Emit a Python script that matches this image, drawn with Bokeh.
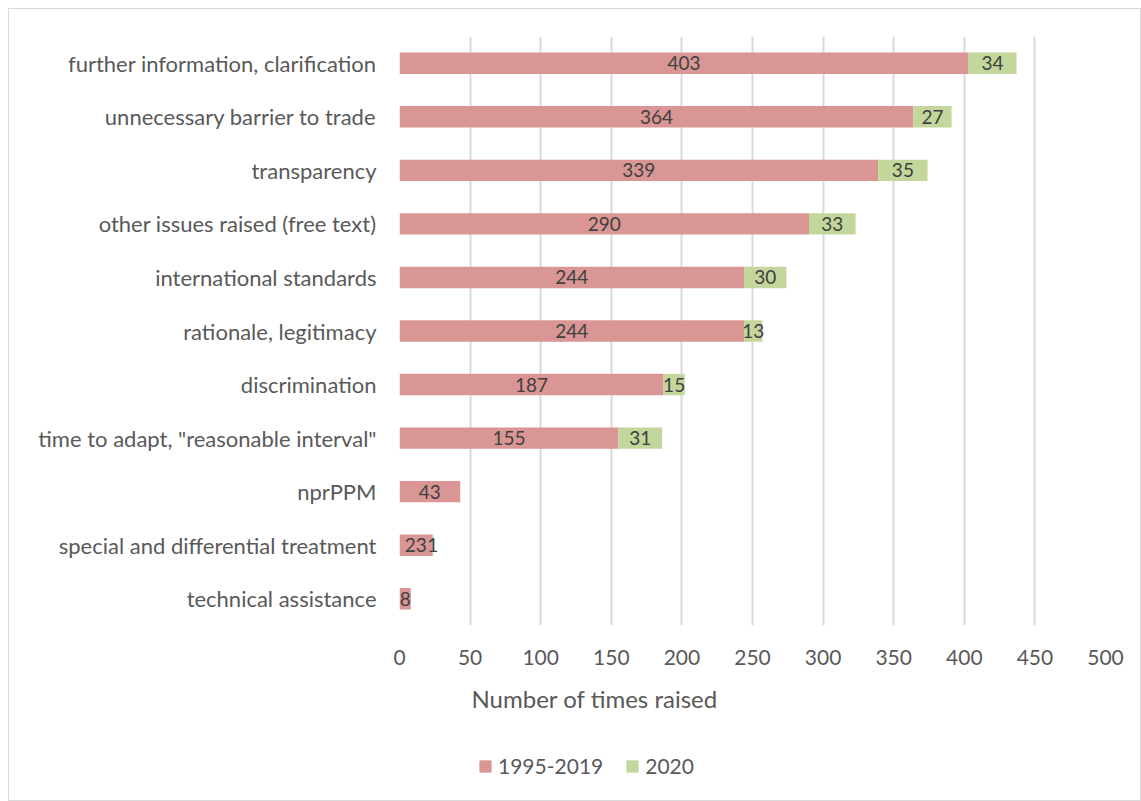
from bokeh.plotting import figure
from bokeh.layouts import column
from bokeh.models import ColumnDataSource, Range1d, FactorRange, Legend, LegendItem, Title, FixedTicker
from bokeh.embed import file_html
from bokeh.resources import INLINE
from bokeh.core.properties import value

categories = [
    "further information, clarification",
    "unnecessary barrier to trade",
    "transparency",
    "other issues raised (free text)",
    "international standards",
    "rationale, legitimacy",
    "discrimination",
    'time to adapt, "reasonable interval"',
    "nprPPM",
    "special and differential treatment",
    "technical assistance",
]
v_1995_2019 = [403, 364, 339, 290, 244, 244, 187, 155, 43, 23, 8]
v_2020 = [34, 27, 35, 33, 30, 13, 15, 31, 0, 1, 0]
series_names = ["1995-2019", "2020"]
x_ticks = [0, 50, 100, 150, 200, 250, 300, 350, 400, 450, 500]
x_title = "Number of times raised"

FONT = "Lato"
C1 = "#D99694"
C2 = "#C3D69B"
GREY = "#595959"

src = ColumnDataSource(dict(cat=categories, a=v_1995_2019, b=v_2020))

p = figure(width=1131, height=726, output_backend="svg", toolbar_location=None,
           y_range=FactorRange(*categories[::-1]), x_range=Range1d(0, 500),
           min_border_left=390, min_border_right=35, min_border_top=27, min_border_bottom=110)
p.outline_line_color = None

r = p.hbar_stack(["a", "b"], y="cat", height=0.4, color=[C1, C2], source=src, line_color=None)

# data labels
la_x = [a / 2 for a in v_1995_2019]
la_t = [str(a) for a in v_1995_2019]
p.text(x=la_x, y=categories, text=la_t, text_align="center", text_baseline="middle",
       text_font=value(FONT), text_font_size="19px", text_color="#404040")
lb_cat = [c for c, b in zip(categories, v_2020) if b > 0]
lb_x = [a + b / 2 for a, b in zip(v_1995_2019, v_2020) if b > 0]
lb_t = [str(b) for b in v_2020 if b > 0]
p.text(x=lb_x, y=lb_cat, text=lb_t, text_align="center", text_baseline="middle",
       text_font=value(FONT), text_font_size="19px", text_color="#404040")

# axes
p.xaxis.ticker = FixedTicker(ticks=x_ticks)
p.xaxis.axis_line_color = None
p.xaxis.major_tick_line_color = None
p.xaxis.minor_tick_line_color = None
p.xaxis.major_label_text_font = FONT
p.xaxis.major_label_text_font_size = "21px"
p.xaxis.major_label_text_color = GREY
p.xaxis.major_label_standoff = 18

p.yaxis.axis_line_color = None
p.yaxis.major_tick_line_color = None
p.yaxis.minor_tick_line_color = None
p.yaxis.major_label_text_font = FONT
p.yaxis.major_label_text_font_size = "22px"
p.yaxis.major_label_text_color = GREY
p.yaxis.major_label_standoff = 17

p.ygrid.grid_line_color = None
p.xgrid.grid_line_color = "#D9D9D9"
p.xgrid.grid_line_width = 2

p.add_layout(Title(text=x_title, align="left", offset=72, text_font=FONT,
                   text_font_size="24px", text_font_style="normal", text_color=GREY,
                   standoff=28), "below")

# legend strip
p2 = figure(width=1131, height=65, output_backend="svg", toolbar_location=None,
            x_range=Range1d(0, 1), y_range=Range1d(0, 1),
            min_border_left=0, min_border_right=0, min_border_top=0, min_border_bottom=0)
p2.axis.visible = False
p2.grid.visible = False
p2.outline_line_color = None
g1 = p2.hbar(y=[-5], left=[0], right=[1], height=0.1, color=C1)
g2 = p2.hbar(y=[-5], left=[0], right=[1], height=0.1, color=C2)
legend = Legend(items=[LegendItem(label=series_names[0], renderers=[g1]),
                       LegendItem(label=series_names[1], renderers=[g2])],
                orientation="horizontal", location=(79, 22),
                glyph_width=14, glyph_height=14, label_standoff=6, spacing=22,
                padding=0, margin=0, border_line_color=None, background_fill_alpha=0,
                label_text_font=FONT, label_text_font_size="21px", label_text_color=GREY)
p2.add_layout(legend, "center")

layout = column(p, p2, spacing=0,
                styles={"border": "1px solid #D9D9D9", "margin-left": "8px", "margin-top": "8px"})

open("out.html", "w").write(file_html(layout, INLINE))
